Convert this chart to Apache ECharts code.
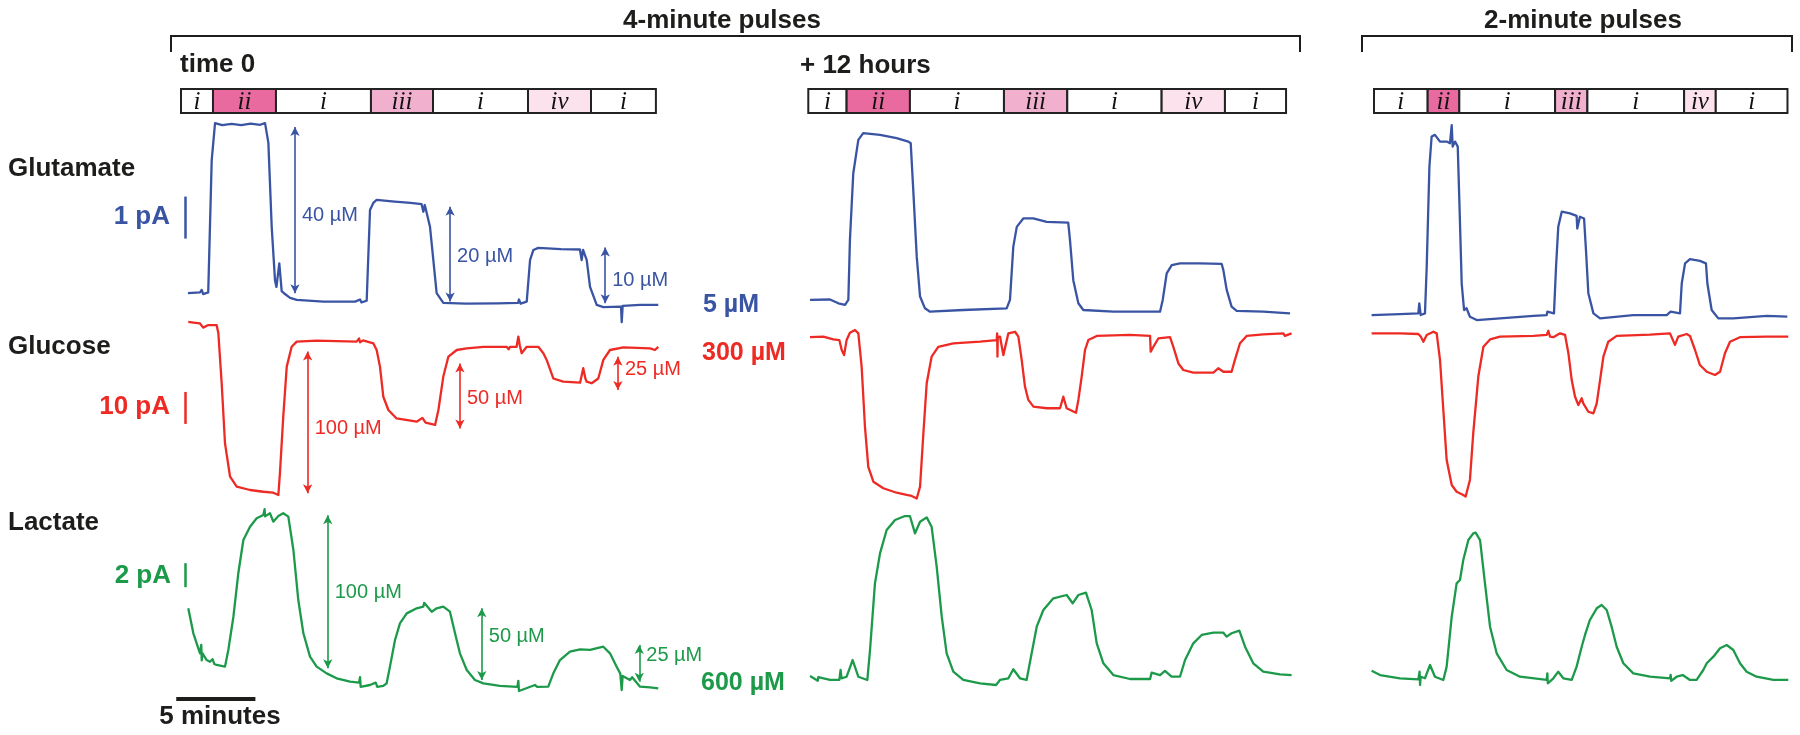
<!DOCTYPE html>
<html><head><meta charset="utf-8">
<script src="https://cdn.jsdelivr.net/npm/echarts@6/dist/echarts.min.js"></script>
<style>html,body{margin:0;padding:0;background:#fff}#c{width:1800px;height:735px}</style>
</head><body><div id="c"></div>
<script>
// ---------------- DATA (time in minutes from start of each panel's pulse bar; current in pA, arbitrary offset) ----------------
const pulseLabels = ['i','ii','i','iii','i','iv','i'];
const pulseBounds0 = [0, 2.02, 6.0, 12.0, 15.92, 21.92, 25.9, 30.0];
const pulseBounds1 = [0, 2.42, 6.42, 12.36, 16.36, 22.32, 26.32, 30.18];
const pulseBounds2 = [0, 3.39, 5.39, 11.44, 13.48, 19.59, 21.59, 26.12];

// Glutamate traces
const glu0 = [[0.44,0.40],[1.2,0.42],[1.31,0.48],[1.4,0.38],[1.72,0.42],[1.94,3.57],[2.15,4.45],[2.6,4.40],[3.2,4.43],[3.8,4.40],[4.4,4.44],[5.0,4.41],[5.31,4.45],[5.52,3.98],[5.73,1.98],[5.94,0.70],[6.03,0.55],[6.21,1.11],[6.36,0.45],[6.57,0.38],[6.89,0.29],[7.31,0.24],[9.0,0.20],[11.0,0.20],[11.31,0.25],[11.4,0.18],[11.73,0.22],[11.94,2.38],[12.15,2.55],[12.36,2.62],[13.5,2.58],[14.5,2.55],[15.2,2.52],[15.31,2.34],[15.4,2.50],[15.52,2.48],[15.73,1.98],[16.15,0.40],[16.57,0.17],[18.0,0.15],[20.0,0.16],[21.3,0.17],[21.35,0.25],[21.45,0.15],[21.84,0.20],[22.05,1.19],[22.26,1.43],[22.57,1.48],[24.0,1.45],[25.2,1.44],[25.31,1.19],[25.4,1.43],[25.52,1.42],[25.63,1.19],[25.84,0.55],[26.26,0.12],[26.68,0.07],[27.8,0.08],[27.84,-0.29],[27.9,0.10],[29.0,0.12],[30.15,0.12]];
const glu1 = [[0.11,0.24],[1.37,0.25],[1.90,0.16],[2.32,0.12],[2.53,0.24],[2.63,1.67],[2.84,3.25],[3.16,4.05],[3.47,4.21],[4.53,4.17],[5.58,4.09],[6.32,4.01],[6.47,3.97],[6.63,2.86],[6.85,1.27],[7.06,0.32],[7.37,0.04],[7.69,-0.04],[9.79,0.0],[12.53,0.04],[12.74,0.24],[12.95,1.51],[13.17,1.98],[13.58,2.18],[14.21,2.18],[15.06,2.10],[16.42,2.08],[16.53,1.67],[16.74,0.71],[17.06,0.16],[17.37,0.0],[19.27,-0.04],[22.22,-0.04],[22.39,0.24],[22.64,0.87],[22.96,1.07],[23.48,1.11],[24.74,1.11],[26.11,1.10],[26.22,0.95],[26.43,0.48],[26.74,0.08],[27.06,-0.02],[28.74,-0.04],[30.43,-0.08]];
const glu2 = [[-0.15,-0.12],[1.64,-0.10],[2.80,-0.08],[2.86,0.16],[2.95,-0.12],[3.22,-0.08],[3.33,1.03],[3.50,3.41],[3.64,4.13],[3.85,4.17],[4.17,4.01],[4.59,4.01],[4.80,3.97],[4.91,4.40],[4.97,3.89],[5.12,4.01],[5.29,3.89],[5.39,2.62],[5.54,0.63],[5.69,0.0],[5.85,0.04],[6.06,-0.16],[6.49,-0.24],[7.96,-0.20],[10.07,-0.14],[10.91,-0.12],[10.95,-0.04],[11.37,-0.08],[11.50,1.03],[11.64,1.98],[11.86,2.34],[12.38,2.30],[12.80,2.24],[12.84,1.94],[13.01,2.22],[13.27,2.18],[13.39,1.43],[13.54,0.40],[13.86,-0.08],[14.28,-0.20],[16.38,-0.12],[18.49,-0.12],[18.74,-0.04],[19.33,-0.08],[19.44,0.63],[19.65,1.11],[19.96,1.21],[20.59,1.17],[20.97,1.11],[21.06,0.63],[21.33,0.0],[21.75,-0.20],[22.70,-0.20],[24.81,-0.14],[26.11,-0.16]];

// Glucose traces
const glc0 = [[0.46,58.8],[0.9,58.5],[1.20,58.3],[1.40,57.0],[1.52,56.8],[1.73,57.8],[2.25,57.8],[2.36,55.2],[2.57,39.6],[2.78,20.8],[3.10,10.4],[3.52,7.3],[4.36,6.25],[5.20,5.7],[5.83,5.4],[6.15,4.7],[6.25,11.5],[6.46,29.2],[6.68,44.8],[6.99,51.0],[7.31,52.6],[8.57,52.9],[11.10,52.6],[11.25,53.6],[11.31,52.4],[11.5,53.0],[12.15,52.1],[12.36,50.0],[12.57,44.8],[12.78,35.4],[13.10,31.25],[13.62,28.6],[14.89,27.6],[15.25,28.8],[15.31,29.0],[15.45,27.3],[15.52,27.3],[16.05,26.6],[16.26,31.25],[16.57,41.7],[16.89,47.9],[17.42,50.0],[18.05,50.5],[19.10,51.0],[20.57,51.0],[20.7,50.2],[20.78,51.0],[21.2,51.0],[21.31,54.2],[21.4,51.5],[21.52,49.0],[21.84,51.0],[22.57,51.0],[22.89,49.0],[23.10,46.9],[23.52,41.1],[24.15,40.1],[25.21,39.8],[25.41,44.3],[25.55,41.0],[25.63,40.1],[25.94,39.6],[26.36,41.1],[26.68,46.9],[27.10,50.0],[27.94,50.8],[29.63,50.5],[29.94,50.0],[30.0,49.5],[30.15,51.0]];
const glc1 = [[0.11,54.0],[0.95,54.2],[1.58,53.3],[1.96,53.1],[2.11,50.0],[2.26,48.4],[2.42,53.1],[2.63,55.4],[2.95,56.25],[3.16,55.2],[3.37,44.8],[3.58,26.0],[3.79,13.5],[4.11,8.85],[4.74,6.8],[5.58,5.4],[6.21,4.7],[6.53,4.4],[6.85,3.6],[7.06,7.3],[7.27,24.0],[7.48,39.6],[7.79,47.9],[8.21,51.0],[9.16,52.1],[10.85,52.6],[11.90,53.1],[11.93,55.2],[11.95,47.9],[11.97,54.0],[12.11,54.2],[12.32,48.4],[12.64,55.2],[13.06,55.7],[13.27,54.2],[13.48,46.9],[13.69,38.5],[13.90,34.4],[14.22,32.3],[15.06,31.8],[15.90,31.8],[16.11,35.4],[16.32,31.8],[16.91,30.4],[17.06,34.4],[17.27,41.7],[17.48,50.0],[17.69,53.1],[18.22,54.4],[20.32,54.7],[21.59,54.4],[21.63,49.5],[21.80,51.0],[22.11,53.6],[22.85,54.0],[23.06,51.0],[23.38,45.8],[23.69,43.75],[24.32,42.9],[25.59,42.9],[25.90,44.3],[26.22,43.2],[26.74,43.2],[26.95,46.9],[27.27,52.1],[27.69,54.4],[28.74,54.9],[30.01,55.2],[30.11,54.4],[30.53,55.2]];
const glc2 = [[-0.15,55.2],[1.64,55.2],[2.80,55.0],[2.95,54.2],[3.12,52.6],[3.33,54.7],[3.75,55.7],[3.96,55.2],[4.17,46.9],[4.38,31.25],[4.59,15.6],[4.91,7.8],[5.22,5.7],[5.64,4.7],[5.79,4.2],[6.06,9.4],[6.27,24.0],[6.59,41.7],[6.91,51.0],[7.33,53.3],[7.96,54.2],[10.07,54.4],[10.91,54.7],[11.01,56.0],[11.12,54.2],[11.33,54.0],[11.75,55.2],[12.07,54.7],[12.28,49.0],[12.49,40.6],[12.70,35.4],[12.91,32.8],[13.12,34.9],[13.22,33.3],[13.54,30.7],[13.86,30.2],[14.07,33.3],[14.28,40.6],[14.49,47.9],[14.80,52.6],[15.33,54.4],[17.44,54.8],[18.70,55.2],[18.80,54.7],[19.01,51.6],[19.22,54.2],[19.75,55.0],[19.96,54.4],[20.28,50.0],[20.59,45.3],[20.80,44.3],[21.02,43.2],[21.54,42.2],[21.86,43.2],[22.17,49.0],[22.49,52.6],[23.12,54.0],[24.81,54.2],[26.17,54.2]];

// Lactate traces
const lac0 = [[0.46,7.64],[0.78,5.56],[1.20,3.89],[1.28,4.6],[1.31,3.3],[1.35,3.9],[1.62,3.33],[1.83,3.19],[2.0,3.4],[2.1,3.0],[2.25,2.92],[2.78,2.78],[2.99,4.17],[3.31,6.94],[3.62,10.56],[3.94,13.33],[4.36,14.44],[4.78,15.14],[5.20,15.42],[5.28,15.9],[5.31,15.3],[5.62,15.56],[5.83,14.86],[6.15,15.33],[6.46,15.56],[6.78,15.28],[7.10,12.5],[7.41,8.33],[7.73,5.56],[8.15,3.61],[8.57,2.78],[9.20,2.22],[9.83,1.81],[10.68,1.53],[11.25,1.45],[11.31,1.9],[11.35,1.1],[11.94,1.25],[12.3,1.45],[12.4,1.1],[12.78,1.17],[12.99,1.39],[13.20,2.78],[13.52,5.0],[13.83,6.39],[14.26,7.22],[14.89,7.64],[15.31,7.78],[15.36,8.1],[15.84,7.36],[16.15,7.64],[16.57,7.78],[16.99,7.36],[17.31,5.56],[17.62,3.89],[18.05,2.5],[18.57,1.67],[19.10,1.39],[20.15,1.17],[21.25,1.1],[21.31,1.6],[21.35,0.75],[22.36,1.25],[22.5,1.1],[23.20,1.11],[23.52,2.22],[23.94,3.33],[24.57,4.03],[25.21,4.22],[25.84,4.17],[26.68,4.44],[27.10,3.89],[27.52,2.78],[27.75,2.2],[27.84,0.83],[27.9,2.0],[28.36,1.67],[28.5,1.9],[29.00,1.11],[29.63,1.06],[30.15,0.97]];
const lac1 = [[0.11,2.0],[0.60,1.61],[0.63,1.9],[1.37,1.67],[1.96,1.67],[2.04,2.5],[2.10,1.8],[2.42,1.94],[2.80,3.33],[3.16,1.94],[3.73,1.67],[3.90,4.17],[4.21,9.72],[4.53,12.22],[4.95,14.17],[5.48,15.0],[6.11,15.33],[6.42,15.33],[6.74,13.89],[7.06,14.86],[7.48,15.22],[7.79,14.44],[8.11,11.11],[8.43,6.94],[8.74,3.89],[9.16,2.36],[9.79,1.67],[10.85,1.39],[11.86,1.25],[12.11,1.67],[12.64,1.81],[12.95,2.56],[13.37,1.81],[13.79,1.67],[14.11,3.89],[14.43,6.11],[14.85,7.5],[15.48,8.47],[16.32,8.75],[16.70,8.06],[17.06,8.75],[17.54,8.94],[17.90,7.5],[18.22,4.72],[18.64,3.06],[19.27,2.08],[20.32,1.75],[21.59,1.75],[21.69,2.28],[22.22,2.08],[22.53,2.42],[22.95,1.94],[23.48,1.94],[23.80,3.33],[24.32,4.72],[24.85,5.42],[25.59,5.61],[26.22,5.61],[26.43,5.28],[26.74,5.56],[27.23,5.78],[27.59,4.44],[28.11,3.06],[28.74,2.36],[29.80,2.14],[30.53,2.08]];
const lac2 = [[-0.15,2.44],[0.38,2.08],[1.64,1.81],[2.80,1.72],[2.88,2.36],[2.91,1.25],[2.95,1.94],[3.22,1.81],[3.54,2.92],[3.85,1.94],[4.38,1.67],[4.59,2.78],[4.91,6.94],[5.22,9.72],[5.43,10.0],[5.64,11.67],[5.96,13.33],[6.27,13.89],[6.42,13.94],[6.70,13.33],[7.01,9.72],[7.33,6.11],[7.75,3.89],[8.38,2.5],[9.22,1.94],[10.91,1.67],[10.95,2.22],[10.98,1.39],[11.33,1.81],[11.64,2.36],[11.96,1.81],[12.49,1.67],[12.80,2.78],[13.12,4.44],[13.33,5.42],[13.64,6.67],[14.07,7.64],[14.38,7.92],[14.70,7.5],[15.01,6.11],[15.33,4.44],[15.75,3.06],[16.38,2.22],[17.44,1.94],[18.70,1.81],[18.74,2.1],[18.78,1.6],[19.12,1.94],[19.50,2.08],[19.96,1.67],[20.38,1.67],[20.80,2.5],[21.02,3.06],[21.44,3.61],[21.86,4.31],[22.28,4.58],[22.70,4.17],[23.12,3.06],[23.54,2.36],[24.17,1.94],[25.23,1.67],[26.17,1.67]];

// Concentration-step arrows in the first panel: [t, top value, bottom value, label value]
const gluArrows = [[7.2,4.36,0.40,2.26],[17.0,2.46,0.20,1.27],[26.8,1.49,0.16,0.70]];
const gluArrowText = ['40 µM','20 µM','10 µM'];
const glcArrows = [[8.0,49.5,5.2,25.5],[17.62,45.8,25.5,34.9],[27.6,47.9,37.5,44.0]];
const glcArrowText = ['100 µM','50 µM','25 µM'];
const lacArrows = [[9.27,15.4,2.64,9.0],[19.0,7.64,1.67,5.3],[28.95,4.58,1.53,3.75]];
const lacArrowText = ['100 µM','50 µM','25 µM'];

// Scale bars (first panel): [t, from, to]
const gluScaleBar = [0.25, 1.7, 2.7];   // 1 pA
const glcScaleBar = [0.25, 26.9, 36.9]; // 10 pA
const lacScaleBar = [0.25, 9.4, 11.4];  // 2 pA
const timeScaleBar = [-0.3, 4.7, 0.08]; // 5 minutes (t from, t to, at lactate value)

// ---------------- LAYOUT / STYLE ----------------
const K = 15.83;                     // px per minute
const panelX0 = [181, 808.3, 1374];
const panelTMax = [31, 31, 26.8];
const T_MIN = -1;
const rows = [
  {top: 89,  h: 24,  min: 0,  max: 1},
  {top: 100, h: 252, min: -1, max: 5},
  {top: 302, h: 208, min: 0,  max: 65},
  {top: 496, h: 216, min: -1, max: 17}
];
const BLUE = '#3a54a4', RED = '#ee2a24', GREEN = '#1c9a4a', INK = '#1d1d1b';
const pulseFill = {'i':'#ffffff','ii':'#e96a9f','iii':'#f1b1ce','iv':'#fbe2ed'};
const SANS = '"Liberation Sans", Arial, sans-serif';
const SERIF = '"Liberation Serif", "Times New Roman", serif';
const TRACE_W = 2.3;

const pulseBounds = [pulseBounds0, pulseBounds1, pulseBounds2];
const traces = [[glu0, glc0, lac0],[glu1, glc1, lac1],[glu2, glc2, lac2]];
const colors = [BLUE, RED, GREEN];

const grid = [], xAxis = [], yAxis = [], series = [];
for (let p = 0; p < 3; p++) {
  for (let r = 0; r < 4; r++) {
    const gi = p * 4 + r;
    grid.push({left: panelX0[p] + K * T_MIN, width: K * (panelTMax[p] - T_MIN), top: rows[r].top, height: rows[r].h, containLabel: false});
    xAxis.push({type: 'value', gridIndex: gi, min: T_MIN, max: panelTMax[p], show: false});
    yAxis.push({type: 'value', gridIndex: gi, min: rows[r].min, max: rows[r].max, show: false});
  }
  // pulse bar
  const b = pulseBounds[p];
  const segs = [];
  for (let k = 0; k < pulseLabels.length; k++) segs.push([b[k], b[k + 1]]);
  series.push({
    type: 'custom', xAxisIndex: p * 4, yAxisIndex: p * 4, data: segs, silent: true,
    renderItem: function (params, api) {
      const lab = pulseLabels[params.dataIndex];
      const a = api.coord([api.value(0), 1]);
      const c = api.coord([api.value(1), 0]);
      return {type: 'group', children: [
        {type: 'rect', shape: {x: a[0], y: a[1], width: c[0] - a[0], height: c[1] - a[1]},
         style: {fill: pulseFill[lab], stroke: '#222', lineWidth: 2}},
        {type: 'text', style: {text: lab, x: (a[0] + c[0]) / 2, y: (a[1] + c[1]) / 2 + 1, align: 'center', verticalAlign: 'middle',
          font: 'italic 25px ' + SERIF, fill: '#111'}}
      ]};
    }
  });
  // traces
  for (let r = 0; r < 3; r++) {
    const gi = p * 4 + r + 1;
    series.push({
      type: 'line', xAxisIndex: gi, yAxisIndex: gi, data: traces[p][r], showSymbol: false, clip: false,
      lineStyle: {color: colors[r], width: TRACE_W, join: 'round'}, itemStyle: {color: colors[r]}, silent: true
    });
  }
}

// Annotations in first panel (arrows, scale bars, arrow labels)
function markSeries(gi, arr, texts, bar, color, extraBar) {
  const lines = arr.map(a => [{coord: [a[0], a[1]]}, {coord: [a[0], a[2]]}]);
  series.push({
    type: 'line', xAxisIndex: gi, yAxisIndex: gi, data: [], silent: true,
    markLine: {silent: true, symbol: ['arrow', 'arrow'], symbolSize: [7, 9], label: {show: false}, animation: false,
      lineStyle: {color: color, width: 1.6, type: 'solid', opacity: 1}, emphasis: {disabled: true}, data: lines}
  });
  series.push({type: 'line', xAxisIndex: gi, yAxisIndex: gi, data: [], silent: true,
    markLine: {silent: true, symbol: ['none', 'none'], label: {show: false}, animation: false,
      lineStyle: {color: color, width: 2.5, type: 'solid', opacity: 1}, emphasis: {disabled: true},
      data: [[{coord: [bar[0], bar[1]]}, {coord: [bar[0], bar[2]]}]]}});
  if (extraBar) {
    series.push({type: 'line', xAxisIndex: gi, yAxisIndex: gi, data: [], silent: true,
      markLine: {silent: true, symbol: ['none', 'none'], label: {show: false}, animation: false,
        lineStyle: {color: INK, width: 4, type: 'solid', opacity: 1}, emphasis: {disabled: true},
        data: [[{coord: [extraBar[0], extraBar[2]]}, {coord: [extraBar[1], extraBar[2]]}]]}});
  }
  series.push({
    type: 'scatter', xAxisIndex: gi, yAxisIndex: gi, symbolSize: 0, silent: true,
    itemStyle: {opacity: 1, color: color},
    data: arr.map((a, i) => ({value: [a[0], a[3]], name: texts[i]})),
    label: {show: true, position: 'right', distance: 7, formatter: p => p.name, color: color, opacity: 1,
      fontSize: 20, fontFamily: SANS, textBorderWidth: 0}
  });
}
markSeries(1, gluArrows, gluArrowText, gluScaleBar, BLUE);
markSeries(2, glcArrows, glcArrowText, glcScaleBar, RED);
markSeries(3, lacArrows, lacArrowText, lacScaleBar, GREEN, timeScaleBar);

function txt(x, y, s, size, color, align, weight) {
  return {type: 'text', x: x, y: y, silent: true,
    style: {text: s, font: (weight || 'bold') + ' ' + size + 'px ' + SANS, fill: color, align: align || 'left', verticalAlign: 'middle'}};
}
const graphic = [
  {type: 'polyline', silent: true, shape: {points: [[171, 52], [171, 36], [1300, 36], [1300, 52]]}, style: {stroke: INK, lineWidth: 2, fill: null}},
  {type: 'polyline', silent: true, shape: {points: [[1362, 52], [1362, 36], [1792, 36], [1792, 52]]}, style: {stroke: INK, lineWidth: 2, fill: null}},
  txt(722, 21, '4-minute pulses', 26, INK, 'center'),
  txt(1583, 21, '2-minute pulses', 26, INK, 'center'),
  txt(180, 65, 'time 0', 26, INK),
  txt(800, 66, '+ 12 hours', 26, INK),
  txt(8, 169, 'Glutamate', 26, INK),
  txt(8, 347, 'Glucose', 26, INK),
  txt(8, 523, 'Lactate', 26, INK),
  txt(170, 217, '1 pA', 26, BLUE, 'right'),
  txt(170, 407, '10 pA', 26, RED, 'right'),
  txt(171, 576, '2 pA', 26, GREEN, 'right'),
  txt(220, 717, '5 minutes', 26, INK, 'center'),
  txt(703, 305, '5 µM', 25, BLUE),
  txt(702, 353, '300 µM', 25, RED),
  txt(701, 683, '600 µM', 25, GREEN)
];

const chart = echarts.init(document.getElementById('c'), null, {renderer: 'canvas'});
chart.setOption({
  animation: false, backgroundColor: '#ffffff',
  grid: grid, xAxis: xAxis, yAxis: yAxis, series: series, graphic: graphic, tooltip: {show: false}
});
</script></body></html>
